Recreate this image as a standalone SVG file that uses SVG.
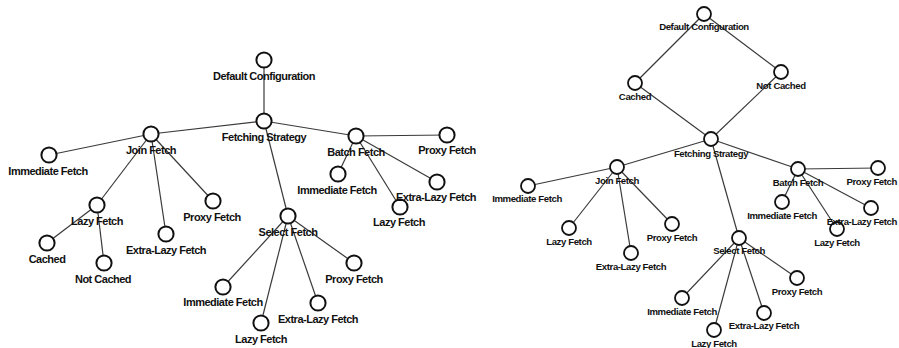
<svg xmlns="http://www.w3.org/2000/svg" width="899" height="348" viewBox="0 0 899 348">
  <style>
    .edges line { stroke: #3a3a3a; stroke-width: 1.2; }
    .node circle { fill: #fff; stroke: #111; stroke-width: 2; }
    .node text { font-family: "Liberation Sans", Arial, sans-serif; font-weight: bold; fill: #111; text-anchor: middle; }
    .node text.edge-fit { text-anchor: end; }
    .big circle { r: 7.6; }
    .big text { font-size: 11px; letter-spacing: -0.5px; }
    .small circle { r: 7; stroke-width: 1.8; }
    .small text { font-size: 9.6px; letter-spacing: -0.4px; }
  </style>
  <rect width="899" height="348" fill="#fff"/>

  <!-- connectors: left tree -->
  <g id="edges-left" class="edges">
    <line x1="264" y1="60" x2="264" y2="121"/>
    <line x1="264" y1="121" x2="151" y2="134"/>
    <line x1="264" y1="121" x2="356" y2="136"/>
    <line x1="264" y1="121" x2="288" y2="216"/>
    <line x1="151" y1="134" x2="49" y2="155"/>
    <line x1="151" y1="134" x2="97" y2="205"/>
    <line x1="151" y1="134" x2="166" y2="234"/>
    <line x1="151" y1="134" x2="213" y2="201"/>
    <line x1="97" y1="205" x2="47" y2="243"/>
    <line x1="97" y1="205" x2="104" y2="263"/>
    <line x1="356" y1="136" x2="447" y2="135"/>
    <line x1="356" y1="136" x2="338" y2="174"/>
    <line x1="356" y1="136" x2="400" y2="207"/>
    <line x1="356" y1="136" x2="437" y2="182"/>
    <line x1="288" y1="216" x2="223" y2="287"/>
    <line x1="288" y1="216" x2="261" y2="323"/>
    <line x1="288" y1="216" x2="318" y2="303"/>
    <line x1="288" y1="216" x2="354" y2="263"/>
  </g>

  <!-- connectors: right graph -->
  <g id="edges-right" class="edges">
    <line x1="704" y1="14" x2="635" y2="83"/>
    <line x1="704" y1="14" x2="781" y2="72"/>
    <line x1="635" y1="83" x2="711" y2="139"/>
    <line x1="781" y1="72" x2="711" y2="139"/>
    <line x1="711" y1="139" x2="617" y2="167"/>
    <line x1="711" y1="139" x2="798" y2="169"/>
    <line x1="711" y1="139" x2="739" y2="238"/>
    <line x1="617" y1="167" x2="528" y2="186"/>
    <line x1="617" y1="167" x2="569" y2="228"/>
    <line x1="617" y1="167" x2="631" y2="253"/>
    <line x1="617" y1="167" x2="672" y2="224"/>
    <line x1="798" y1="169" x2="878" y2="168"/>
    <line x1="798" y1="169" x2="782" y2="202"/>
    <line x1="798" y1="169" x2="837" y2="229"/>
    <line x1="798" y1="169" x2="871" y2="208"/>
    <line x1="739" y1="238" x2="682" y2="298"/>
    <line x1="739" y1="238" x2="714" y2="330"/>
    <line x1="739" y1="238" x2="764" y2="313"/>
    <line x1="739" y1="238" x2="797" y2="278"/>
  </g>

  <!-- left tree nodes -->
  <g id="L-default" class="node big"><circle cx="264" cy="60"/><text x="264" y="80">Default Configuration</text></g>
  <g id="L-fetching" class="node big"><circle cx="264" cy="121"/><text x="264" y="141">Fetching Strategy</text></g>
  <g id="L-join" class="node big"><circle cx="151" cy="134"/><text x="151" y="154">Join Fetch</text></g>
  <g id="L-join-immediate" class="node big"><circle cx="49" cy="155"/><text x="48" y="175">Immediate Fetch</text></g>
  <g id="L-join-lazy" class="node big"><circle cx="97" cy="205"/><text x="97" y="225">Lazy Fetch</text></g>
  <g id="L-cached" class="node big"><circle cx="47" cy="243"/><text x="47" y="263">Cached</text></g>
  <g id="L-not-cached" class="node big"><circle cx="104" cy="263"/><text x="103" y="283">Not Cached</text></g>
  <g id="L-join-extra-lazy" class="node big"><circle cx="166" cy="234"/><text x="166" y="254">Extra-Lazy Fetch</text></g>
  <g id="L-join-proxy" class="node big"><circle cx="213" cy="201"/><text x="212" y="221">Proxy Fetch</text></g>
  <g id="L-batch" class="node big"><circle cx="356" cy="136"/><text x="356" y="156">Batch Fetch</text></g>
  <g id="L-batch-proxy" class="node big"><circle cx="447" cy="135"/><text x="447" y="154">Proxy Fetch</text></g>
  <g id="L-batch-immediate" class="node big"><circle cx="338" cy="174"/><text x="337" y="194">Immediate Fetch</text></g>
  <g id="L-batch-lazy" class="node big"><circle cx="400" cy="207"/><text x="399" y="226">Lazy Fetch</text></g>
  <g id="L-batch-extra-lazy" class="node big"><circle cx="437" cy="182"/><text x="436" y="201">Extra-Lazy Fetch</text></g>
  <g id="L-select" class="node big"><circle cx="288" cy="216"/><text x="288" y="236">Select Fetch</text></g>
  <g id="L-select-immediate" class="node big"><circle cx="223" cy="287"/><text x="223" y="306">Immediate Fetch</text></g>
  <g id="L-select-lazy" class="node big"><circle cx="261" cy="323"/><text x="261" y="343">Lazy Fetch</text></g>
  <g id="L-select-extra-lazy" class="node big"><circle cx="318" cy="303"/><text x="318" y="323">Extra-Lazy Fetch</text></g>
  <g id="L-select-proxy" class="node big"><circle cx="354" cy="263"/><text x="354" y="283">Proxy Fetch</text></g>

  <!-- right graph nodes -->
  <g id="R-default" class="node small"><circle cx="704" cy="14"/><text x="704" y="30">Default Configuration</text></g>
  <g id="R-cached" class="node small"><circle cx="635" cy="83"/><text x="635" y="100">Cached</text></g>
  <g id="R-not-cached" class="node small"><circle cx="781" cy="72"/><text x="781" y="89">Not Cached</text></g>
  <g id="R-fetching" class="node small"><circle cx="711" cy="139"/><text x="711" y="157">Fetching Strategy</text></g>
  <g id="R-join" class="node small"><circle cx="617" cy="167"/><text x="617" y="184">Join Fetch</text></g>
  <g id="R-join-immediate" class="node small"><circle cx="528" cy="186"/><text x="527" y="202">Immediate Fetch</text></g>
  <g id="R-join-lazy" class="node small"><circle cx="569" cy="228"/><text x="569" y="245">Lazy Fetch</text></g>
  <g id="R-join-extra-lazy" class="node small"><circle cx="631" cy="253"/><text x="631" y="270">Extra-Lazy Fetch</text></g>
  <g id="R-join-proxy" class="node small"><circle cx="672" cy="224"/><text x="672" y="241">Proxy Fetch</text></g>
  <g id="R-batch" class="node small"><circle cx="798" cy="169"/><text x="798" y="186">Batch Fetch</text></g>
  <!-- labels at the right margin are end-anchored so they stay inside the canvas -->
  <g id="R-batch-proxy" class="node small"><circle cx="878" cy="168"/><text class="edge-fit" x="897" y="185">Proxy Fetch</text></g>
  <g id="R-batch-immediate" class="node small"><circle cx="782" cy="202"/><text x="782" y="219">Immediate Fetch</text></g>
  <g id="R-batch-lazy" class="node small"><circle cx="837" cy="229"/><text x="837" y="246">Lazy Fetch</text></g>
  <g id="R-batch-extra-lazy" class="node small"><circle cx="871" cy="208"/><text class="edge-fit" x="897" y="225">Extra-Lazy Fetch</text></g>
  <g id="R-select" class="node small"><circle cx="739" cy="238"/><text x="739" y="254">Select Fetch</text></g>
  <g id="R-select-immediate" class="node small"><circle cx="682" cy="298"/><text x="682" y="315">Immediate Fetch</text></g>
  <g id="R-select-lazy" class="node small"><circle cx="714" cy="330"/><text x="714" y="347">Lazy Fetch</text></g>
  <g id="R-select-extra-lazy" class="node small"><circle cx="764" cy="313"/><text x="764" y="329">Extra-Lazy Fetch</text></g>
  <g id="R-select-proxy" class="node small"><circle cx="797" cy="278"/><text x="797" y="295">Proxy Fetch</text></g>
</svg>
